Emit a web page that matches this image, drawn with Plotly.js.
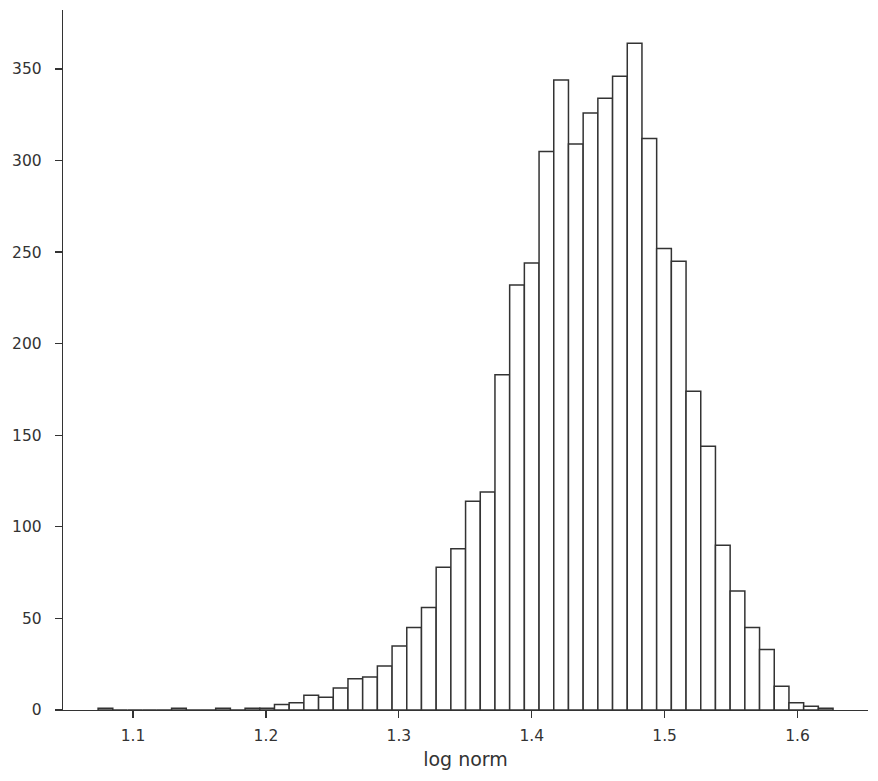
<!DOCTYPE html>
<html>
<head>
<meta charset="utf-8">
<script src="https://cdn.plot.ly/plotly-3.0.1.min.js"></script>
<style>
html,body{margin:0;padding:0;background:#fff;}
#chart{width:878px;height:781px;}
</style>
</head>
<body>
<div id="chart"></div>
<script>
// Histogram definition
const binStart = 1.0737;
const binWidth = 0.01106;
const counts = [
  1, 0, 0, 0, 0, 1, 0, 0, 1, 0,
  1, 1, 3, 4, 8, 7, 12, 17, 18, 24,
  35, 45, 56, 78, 88, 114, 119, 183, 232, 244,
  305, 344, 309, 326, 334, 346, 364, 312, 252, 245,
  174, 144, 90, 65, 45, 33, 13, 4, 2, 1
];
const xTicks = [1.1, 1.2, 1.3, 1.4, 1.5, 1.6];
const yTicks = [0, 50, 100, 150, 200, 250, 300, 350];
const xLabel = "log norm";

const centers = counts.map((_, k) => binStart + (k + 0.5) * binWidth);

const ink = "#333333";
const trace = {
  type: "bar",
  x: centers,
  y: counts,
  width: counts.map(() => binWidth),
  marker: {color: "#ffffff", line: {color: "#333333", width: 1.5}},
  hoverinfo: "x+y"
};

const layout = {
  width: 878, height: 781,
  margin: {l: 63, r: 10, t: 10, b: 71},
  paper_bgcolor: "#fff", plot_bgcolor: "#fff",
  showlegend: false,
  bargap: 0,
  font: {family: "DejaVu Sans, sans-serif", size: 15.5, color: ink},
  xaxis: {
    range: [1.0473, 1.653],
    tickvals: xTicks,
    ticktext: xTicks.map(v => v.toFixed(1)),
    ticks: "outside", ticklen: 7, tickwidth: 1.25, tickcolor: ink,
    ticklabelstandoff: 4,
    showline: true, linecolor: ink, linewidth: 1.25,
    showgrid: false, zeroline: false,
    title: {text: xLabel, font: {size: 19, color: ink}, standoff: 8}
  },
  yaxis: {
    range: [0, 382.2],
    tickvals: yTicks,
    ticktext: yTicks.map(String),
    ticks: "outside", ticklen: 7, tickwidth: 1.25, tickcolor: ink,
    ticklabelstandoff: 10,
    showline: true, linecolor: ink, linewidth: 1.25,
    showgrid: false, zeroline: false
  }
};

Plotly.newPlot("chart", [trace], layout, {displayModeBar: false, staticPlot: true});
</script>
</body>
</html>
